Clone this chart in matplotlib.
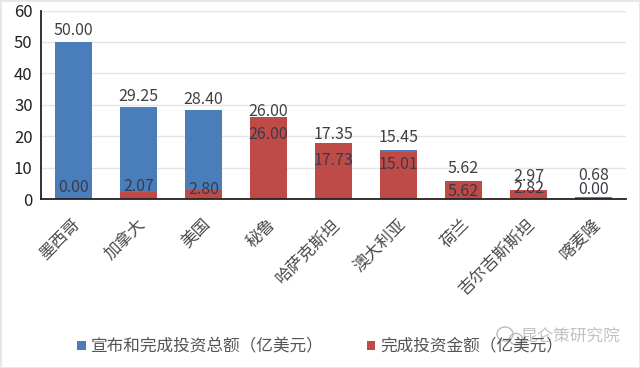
import matplotlib
matplotlib.use("Agg")
import matplotlib.pyplot as plt
from matplotlib.patches import Rectangle, Ellipse
from matplotlib.transforms import ScaledTranslation

plt.rcParams['font.family'] = ['Noto Sans CJK SC', 'DejaVu Sans']

countries = ["墨西哥", "加拿大", "美国", "秘鲁", "哈萨克斯坦", "澳大利亚", "荷兰", "吉尔吉斯斯坦", "喀麦隆"]
total_invest = [50.00, 29.25, 28.40, 26.00, 17.35, 15.45, 5.62, 2.97, 0.68]
done_invest = [0.00, 2.07, 2.80, 26.00, 17.73, 15.01, 5.62, 2.82, 0.00]
y_ticks = [0, 10, 20, 30, 40, 50, 60]

# label centre offsets from the bar top, in pixels
total_offset = [11, 11, 10, 6, 10, 13, 13, 13, 21]
done_offset = [11, 5.5, 1, -17, -17, -13, -10, 2, 9]

blue = "#4a7ebb"
red = "#be4b48"

fig = plt.figure(figsize=(6.4, 3.68), dpi=100)
ax = fig.add_axes([41 / 640, 1 - 199 / 368, 585 / 640, 188.5 / 368])

x = list(range(len(countries)))
b1 = ax.bar(x, total_invest, width=0.57, color=blue, label="宣布和完成投资总额（亿美元）")
b2 = ax.bar(x, done_invest, width=0.57, color=red, label="完成投资金额（亿美元）")

for i in x:
    ax.annotate(f"{total_invest[i]:.2f}", (i, total_invest[i]), xytext=(0, total_offset[i] * 0.72),
                textcoords="offset points", ha="center", va="center", fontsize=11.5, color="#404040")
    ax.annotate(f"{done_invest[i]:.2f}", (i, done_invest[i]), xytext=(0, done_offset[i] * 0.72),
                textcoords="offset points", ha="center", va="center", fontsize=11.5, color="#3a3a4a")

ax.set_xlim(-0.5, 8.5)
ax.set_ylim(0, 60)
ax.set_yticks(y_ticks)
ax.tick_params(axis="y", length=0, labelsize=12, labelcolor="#222222", pad=6)
ax.set_xticks(x)
ax.set_xticklabels(countries, rotation=45, ha="right", rotation_mode="anchor",
                   fontsize=12, color="#4a4a4a")
ax.tick_params(axis="x", length=0, pad=12)
shift = ScaledTranslation(-2 / 100, 0, fig.dpi_scale_trans)
for lab in ax.get_xticklabels():
    lab.set_transform(lab.get_transform() + shift)
ax.grid(axis="y", color="#e4e4e4", linewidth=1)
ax.set_axisbelow(True)
for s in ["top", "right"]:
    ax.spines[s].set_visible(False)
ax.spines["left"].set_color("#222222")
ax.spines["bottom"].set_color("#222222")
ax.spines["left"].set_linewidth(1.3)
ax.spines["bottom"].set_linewidth(1.3)

fig.legend(handles=[b1, b2], loc="center", bbox_to_anchor=(0.5, 1 - 347 / 368), ncol=2,
           frameon=False, fontsize=12, labelcolor="#555555", handlelength=0.5, handleheight=0.5,
           handletextpad=0.3, columnspacing=2.6)

# watermark
fig.text(620 / 640, 1 - 336 / 368, "昆仑策研究院", ha="right", va="center", fontsize=12, color="#9a9a9a", alpha=0.6)
fig.add_artist(Ellipse((505 / 640, 1 - 334 / 368), 16 / 640, 14 / 368, transform=fig.transFigure,
                       fill=False, edgecolor="#bbbbbb", linewidth=1))
fig.add_artist(Ellipse((516 / 640, 1 - 339 / 368), 13 / 640, 11 / 368, transform=fig.transFigure,
                       fill=False, edgecolor="#bbbbbb", linewidth=1))

# image border
fig.add_artist(Rectangle((0, 0), 1, 1, transform=fig.transFigure, fill=False, edgecolor="#e6e6e6", linewidth=2))

fig.savefig("out.png", dpi=100)
